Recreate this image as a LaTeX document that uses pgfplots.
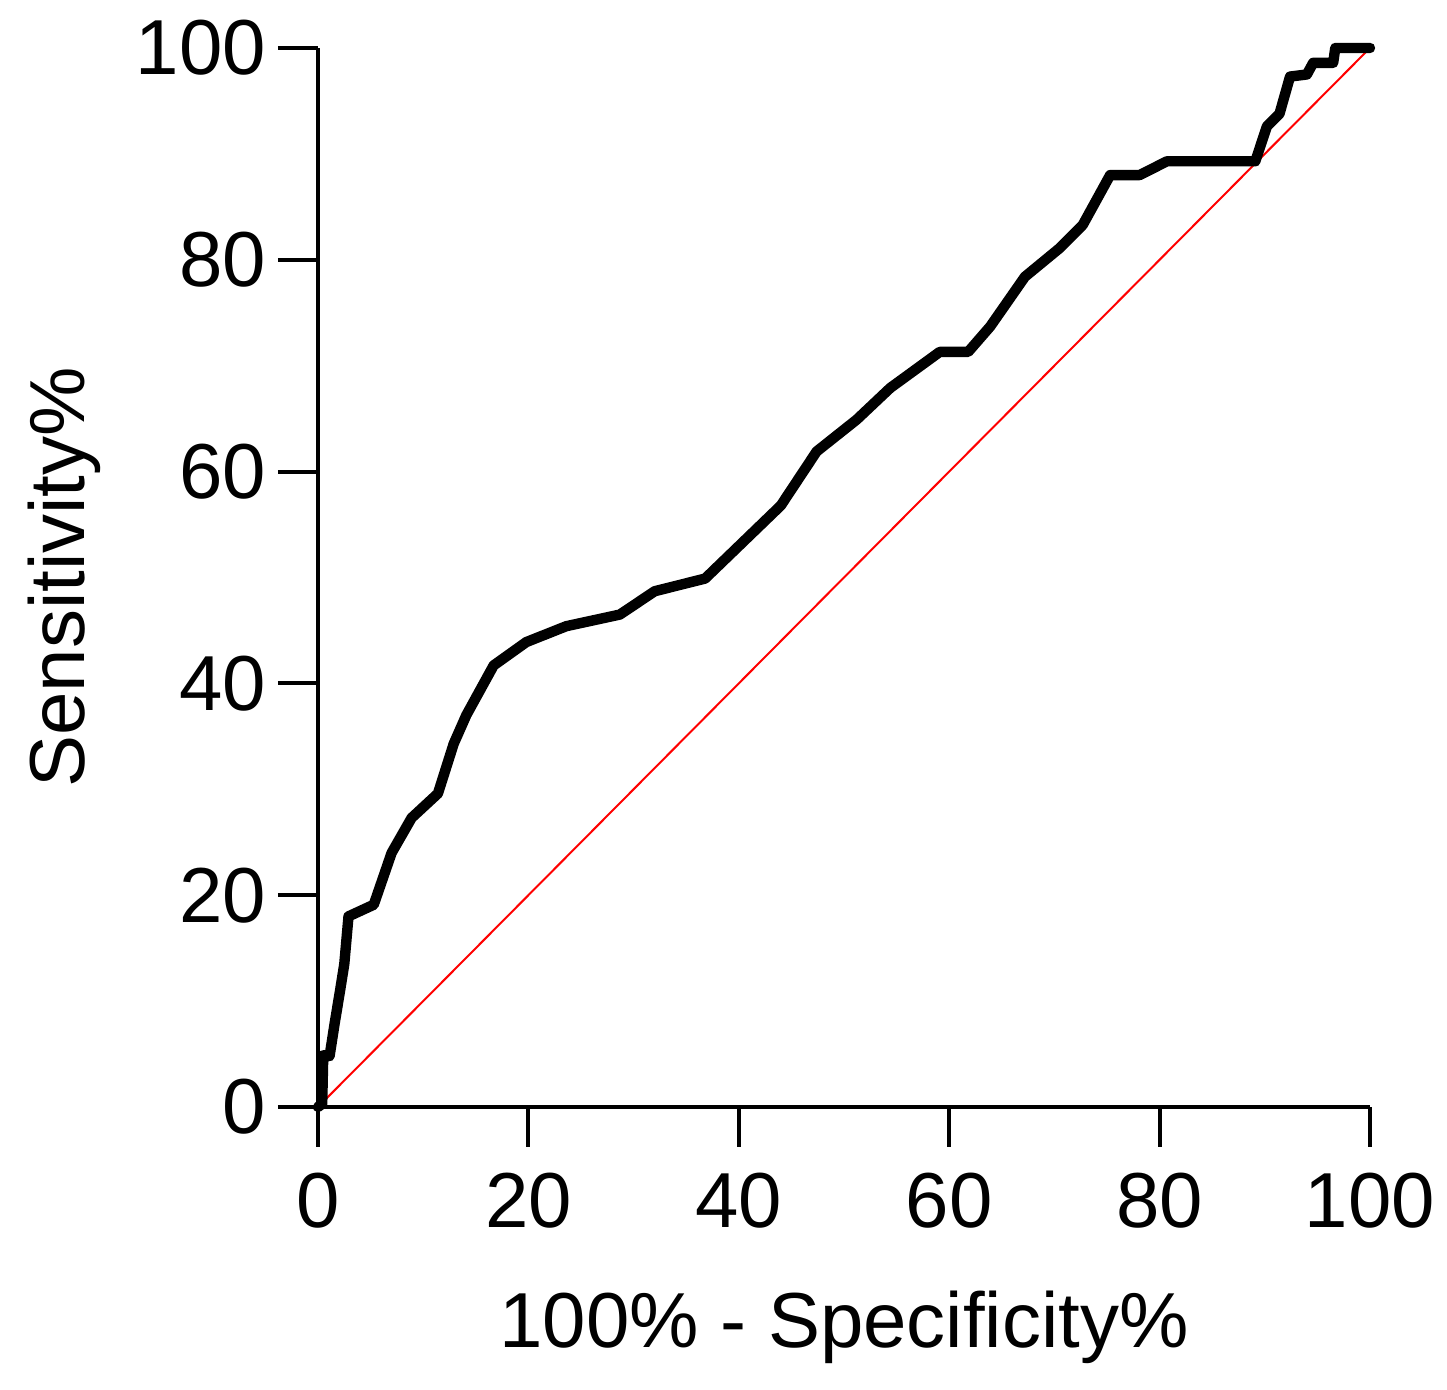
\documentclass[border=0pt]{standalone}
\usepackage{fontspec}
\setmainfont{Liberation Sans}
\usepackage{pgfplots}
\pgfplotsset{compat=1.18}

\pgfplotstableread{
fpr tpr
0 0
0.4 0.3
0.5 4.9
1.1 4.8
1.6 8.0
2.1 11.0
2.5 13.5
2.9 18.0
5.3 19.1
7.0 24.0
8.9 27.3
11.4 29.6
12.9 34.3
14.1 37.0
16.7 41.7
19.8 43.9
23.6 45.4
28.7 46.5
32.0 48.7
36.8 49.9
44.0 56.8
47.4 61.9
51.2 64.9
54.4 67.9
59.1 71.3
61.8 71.3
63.9 73.7
67.2 78.4
70.5 81.1
72.7 83.3
75.3 88.0
78.1 88.0
80.7 89.3
89.1 89.3
90.2 92.6
91.4 93.8
92.4 97.3
94.0 97.5
94.6 98.6
96.5 98.6
96.7 100
100 100
}\roc

\begin{document}
\begin{tikzpicture}
  \begin{axis}[
    at={(0,0)}, anchor=origin,
    scale only axis,
    width=263pt, height=264.75pt,
    xmin=0, xmax=100, ymin=0, ymax=100,
    axis x line=bottom, axis y line=left,
    axis line style={-, line width=1pt},
    tick align=outside,
    major tick length=10pt,
    every tick/.style={black, line width=1pt},
    xtick={0,20,...,100}, ytick={0,20,...,100},
    /pgf/number format/assume math mode=true,
    ticklabel style={font=\fontsize{19.5}{23}\selectfont},
    yticklabel style={xshift=0.5pt},
    xticklabel style={yshift=-3pt},
    xlabel={100\% - Specificity\%},
    ylabel={Sensitivity\%},
    label style={font=\fontsize{19.5}{23}\selectfont},
    xlabel style={at={(axis description cs:0.5,-0.208)}, anchor=center},
    ylabel style={at={(axis description cs:-0.241,0.5)}, anchor=center, rotate=0},
    clip=false,
  ]
    % chance line
    \addplot[red, line width=0.5pt] coordinates {(0,0) (100,100)};
    % ROC curve
    \addplot[black, line width=2.6pt, line join=round, line cap=round] table[x=fpr, y=tpr] {\roc};
  \end{axis}
  \pgfresetboundingbox
  \path[use as bounding box] (-79.5pt,-70.75pt) rectangle (282.25pt,276.75pt);
\end{tikzpicture}
\end{document}
